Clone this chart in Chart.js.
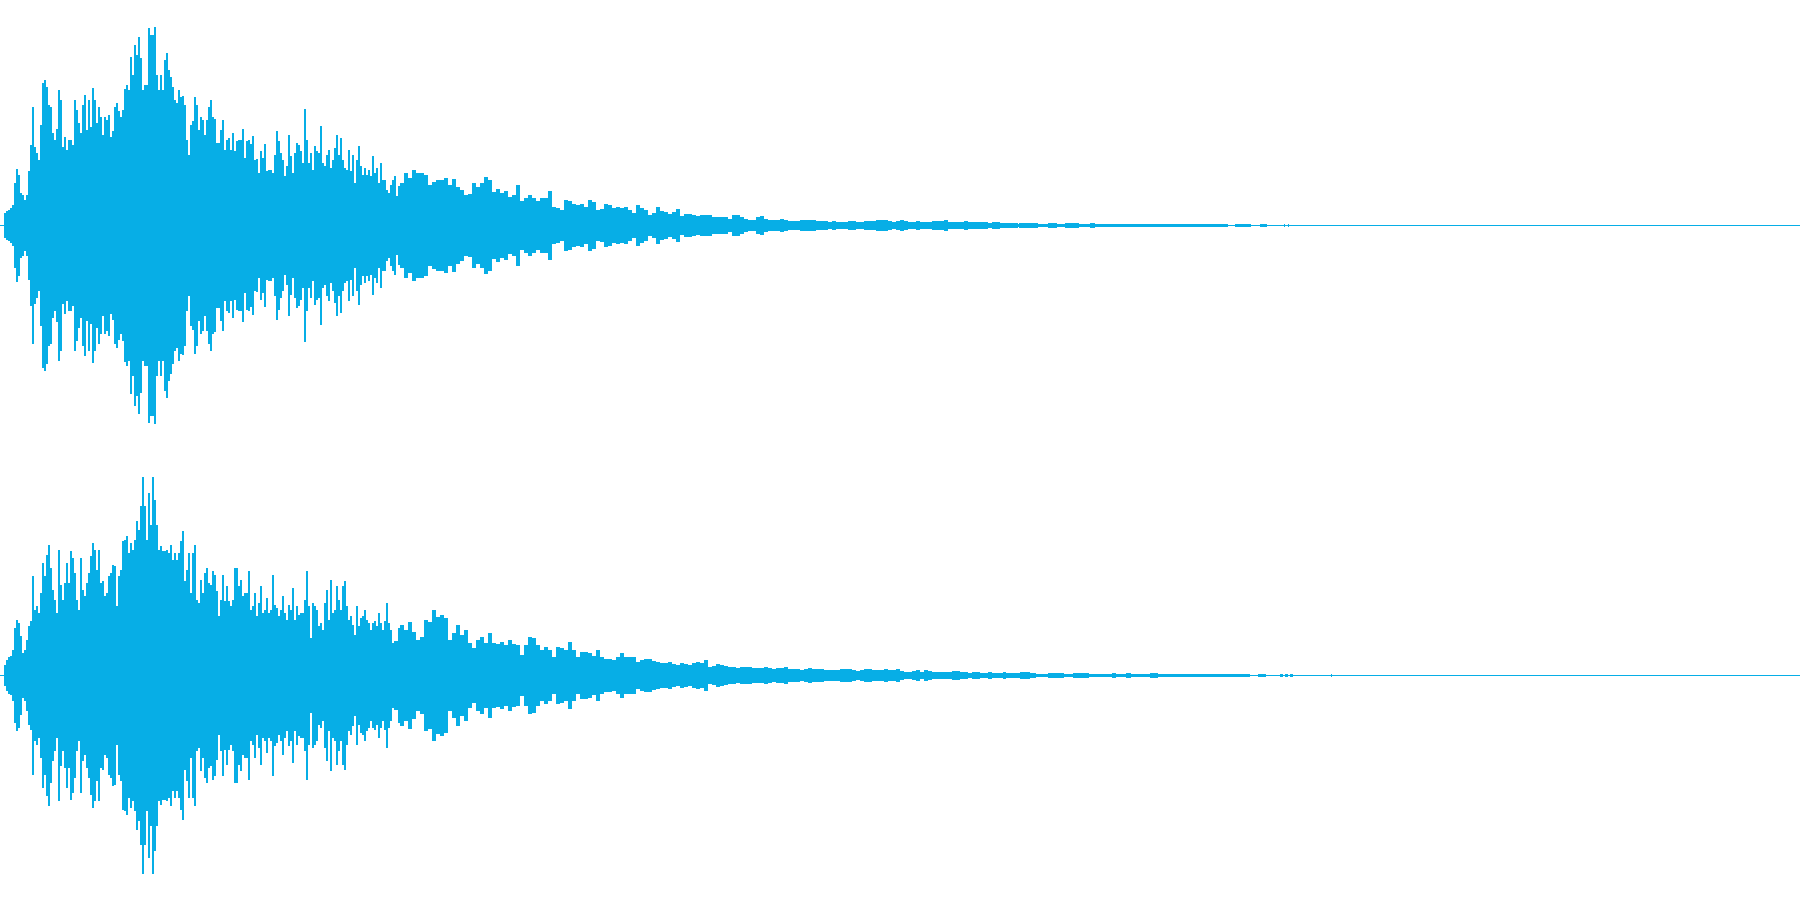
<!DOCTYPE html>
<html>
<head>
<meta charset="utf-8">
<title>Stereo waveform</title>
<script src="https://cdn.jsdelivr.net/npm/chart.js@4"></script>
<style>
html,body{margin:0;padding:0;background:#fff;overflow:hidden}
canvas{display:block}
</style>
</head>
<body>
<canvas id="left" width="1800" height="450"></canvas>
<canvas id="right" width="1800" height="450"></canvas>
<script>
// Peak amplitude of each channel. Full scale is 225 units.
const headStep = 2;   // time units per value, from 0 to 400
const midStep = 4;    // time units per value, from 400 to 1000
const duration = 1800;
const waveColor = '#07AEE6';

const leftHead = [0,0,12,14,15,17,20,42,56,50,32,30,25,30,54,80,118,78,72,65,100,142,145,138,120,118,92,85,96,135,125,78,88,75,85,85,80,125,115,102,92,120,130,95,125,98,137,125,102,118,108,90,108,105,110,88,94,118,122,114,108,115,136,140,135,168,150,180,170,188,167,135,140,140,197,190,190,198,150,135,150,135,165,172,155,148,138,125,122,135,128,129,120,85,70,100,104,128,120,95,108,105,90,105,118,125,108,106,82,82,95,105,75,85,87,75,92,74,84,85,85,96,67,84,85,81,89,65,66,52,74,67,81,54,55,55,52,70,94,84,72,65,49,59,90,69,52,72,82,80,74,62,116,85,62,72,55,79,74,72,99,62,59,70,75,57,65,77,90,70,87,65,57,55,75,54,70,42,65,79,59,50,57,50,55,49,69,52,57,42,62,45,45,35,32,40,45,49,29,39];
const leftMid = [42,52,47,55,52,52,50,40,43,45,45,47,40,46,38,35,30,31,42,38,42,48,45,33,36,32,34,28,30,40,24,27,30,27,24,27,27,34,18,17,15,25,24,21,20,21,18,25,23,15,16,21,20,17,18,17,18,15,12,20,17,15,10,12,18,14,13,11,13,16,9,11,11,10,9,10,10,10,8,8,8,8,6,10,10,8,6,5,5,8,9,6,5,5,5,6,5,4,4,4,5,5,5,5,4,4,4,3,4,3,3,3,4,4,3,3,4,4,4,5,5,5,4,3,4,5,4,3,3,4,3,3,3,4,4,4,5,3,3,3,3,4,3,3,3,3,3,2,3,3];
const leftRunStart = [1000,1018,1019,1038,1048,1057,1065,1079,1090,1095,1228,1235,1251,1260,1267,1284,1285,1288,1289];
const leftRunAmp   = [2,1,2,1,2,1,2,1,2,1,0,1,0,1,0,1,0,1,0];

const rightHead = [0,0,10,15,18,19,25,47,55,52,39,22,25,35,49,54,99,65,69,62,82,112,99,120,130,107,85,75,62,125,90,75,92,112,92,124,117,102,75,65,117,85,79,92,102,119,132,125,105,125,92,94,79,82,99,102,110,109,69,99,105,134,135,139,122,132,125,135,154,145,169,198,169,135,182,150,198,175,150,125,129,124,124,125,122,130,115,122,115,122,134,144,94,105,122,82,122,130,75,72,95,82,102,107,92,90,104,100,84,59,75,100,74,89,74,69,75,107,107,89,95,79,82,82,104,65,69,82,59,72,89,62,65,77,62,65,100,70,67,59,65,79,62,55,70,65,87,55,69,60,62,62,75,104,69,37,72,69,65,49,52,45,72,85,55,95,62,65,89,75,65,89,94,69,55,59,50,40,69,49,57,59,65,55,52,45,52,54,49,62,52,45,54,72,52,45,32,34,34,47];
const rightMid = [50,45,53,43,35,38,55,53,65,58,60,57,35,42,50,40,45,32,27,35,38,32,42,32,31,33,30,35,31,30,20,30,38,37,30,25,28,25,18,28,27,25,33,25,18,23,23,22,19,25,18,16,16,15,18,22,18,18,18,13,15,16,16,14,13,12,12,13,11,10,12,11,10,12,13,12,15,8,9,11,10,9,8,8,7,8,8,8,7,7,7,8,7,6,7,7,8,6,6,6,5,6,7,6,6,6,5,5,5,5,6,6,6,5,4,5,6,6,5,5,5,6,5,5,6,4,3,3,4,5,3,5,4,3,3,3,3,3,4,4,3,3,2,3,3,2,2,3,2,2];
const rightRunStart = [1000,1003,1006,1020,1030,1036,1048,1064,1073,1089,1112,1116,1126,1131,1150,1158,1250,1258,1266,1280,1283,1285,1288,1290,1293,1331,1332];
const rightRunAmp   = [2,3,2,3,2,1,2,1,2,1,2,1,2,1,2,1,0,1,0,1,0,1,0,1,0,1,0];

function envelope(head, mid, runStart, runAmp) {
  const pts = [];
  head.forEach((a, i) => pts.push({ x: i * headStep, a }));
  const midOrigin = head.length * headStep;
  mid.forEach((a, i) => pts.push({ x: midOrigin + i * midStep, a }));
  runStart.forEach((x, i) => pts.push({ x, a: runAmp[i] }));
  pts.push({ x: duration, a: 0 });
  return pts;
}

function draw(id, pts) {
  // every sample column is at least one hairline thick
  const upper = pts.map(p => ({ x: p.x, y: p.a + 0.5 }));
  const lower = pts.map(p => ({ x: p.x, y: -p.a - 0.5 }));
  new Chart(document.getElementById(id), {
    type: 'line',
    data: {
      datasets: [
        { data: upper, stepped: true, borderWidth: 0, pointRadius: 0, backgroundColor: waveColor, fill: '+1' },
        { data: lower, stepped: true, borderWidth: 0, pointRadius: 0, backgroundColor: waveColor, fill: false }
      ]
    },
    options: {
      responsive: false,
      animation: false,
      devicePixelRatio: 1,
      layout: { padding: 0 },
      plugins: { legend: { display: false }, tooltip: { enabled: false }, title: { display: false } },
      scales: {
        x: { type: 'linear', min: 0, max: duration, display: false },
        y: { type: 'linear', min: -224.5, max: 225.5, display: false }
      }
    }
  });
}

draw('left', envelope(leftHead, leftMid, leftRunStart, leftRunAmp));
draw('right', envelope(rightHead, rightMid, rightRunStart, rightRunAmp));
</script>
</body>
</html>
